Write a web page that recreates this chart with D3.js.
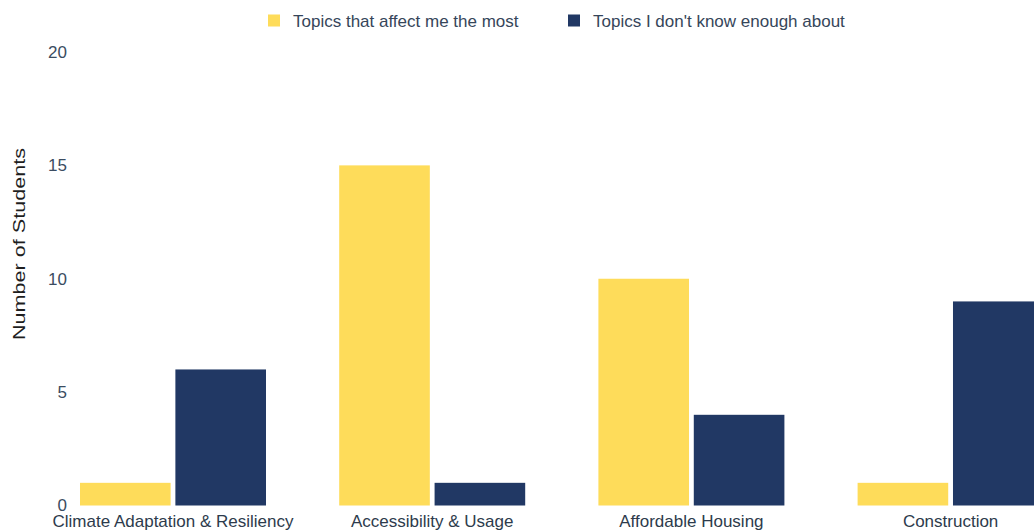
<!DOCTYPE html>
<html>
<head>
<meta charset="utf-8">
<script src="https://cdn.jsdelivr.net/npm/d3@7"></script>
<style>
  html, body { margin: 0; padding: 0; background: #ffffff; overflow: hidden; }
  svg { display: block; font-family: "Liberation Sans", Arial, sans-serif; }
</style>
</head>
<body>
<svg id="chart" width="1034" height="531"></svg>
<script>
const categories = ["Climate Adaptation & Resiliency", "Accessibility & Usage", "Affordable Housing", "Construction"];
const seriesNames = ["Topics that affect me the most", "Topics I don't know enough about"];
const affectMost = [1, 15, 10, 1];
const dontKnow = [6, 1, 4, 9];
const yTicks = [0, 5, 10, 15, 20];
const colors = ["#FEDC5A", "#213864"];

const svg = d3.select("#chart");
svg.append("rect").attr("width", 1034).attr("height", 531).attr("fill", "#ffffff");

const x = d3.scaleBand().domain(categories).range([43.4, 1080.2]).paddingInner(0.2824).paddingOuter(0.1412);
const xs = d3.scaleBand().domain(seriesNames).range([0, x.bandwidth()]).paddingInner(0.05).paddingOuter(0);
const y = d3.scaleLinear().domain([0, 20]).range([505.5, 52]);

const rows = categories.map((c, i) => ({ cat: c, vals: [affectMost[i], dontKnow[i]] }));

// bars
const g = svg.append("g");
rows.forEach(r => {
  r.vals.forEach((v, j) => {
    g.append("rect")
      .attr("x", x(r.cat) + xs(seriesNames[j]))
      .attr("y", y(v))
      .attr("width", xs.bandwidth())
      .attr("height", y(0) - y(v))
      .attr("fill", colors[j]);
  });
});

// y axis
const yAxis = d3.axisLeft(y).tickValues(yTicks).tickSize(0).tickPadding(0).tickFormat(d3.format("d"));
const ya = svg.append("g").attr("transform", "translate(67,0)").call(yAxis);
ya.select(".domain").remove();
ya.selectAll("text").attr("font-size", 17).attr("fill", "#3b4c61").attr("font-family", "Liberation Sans, Arial, sans-serif");

// x axis
const xAxis = d3.axisBottom(x).tickSize(0).tickPadding(0);
const xa = svg.append("g").attr("transform", "translate(0,515)").call(xAxis);
xa.select(".domain").remove();
xa.selectAll("text").attr("font-size", 17).attr("fill", "#2d3b4c").attr("dy", "0.71em")
  .attr("font-family", "Liberation Sans, Arial, sans-serif");

// y title
svg.append("text")
  .attr("transform", "translate(25,244) rotate(-90)")
  .attr("text-anchor", "middle")
  .attr("font-size", 17)
  .attr("fill", "#1e1e1e")
  .attr("textLength", 192)
  .attr("lengthAdjust", "spacingAndGlyphs")
  .text("Number of Students");

// legend
const legendX = [268, 568];
seriesNames.forEach((s, j) => {
  svg.append("rect").attr("x", legendX[j]).attr("y", 14.5).attr("width", 12).attr("height", 12).attr("fill", colors[j]);
  svg.append("text").attr("x", legendX[j] + 25).attr("y", 26.5)
    .attr("font-size", 17).attr("fill", "#36465a").text(s);
});
</script>
</body>
</html>
